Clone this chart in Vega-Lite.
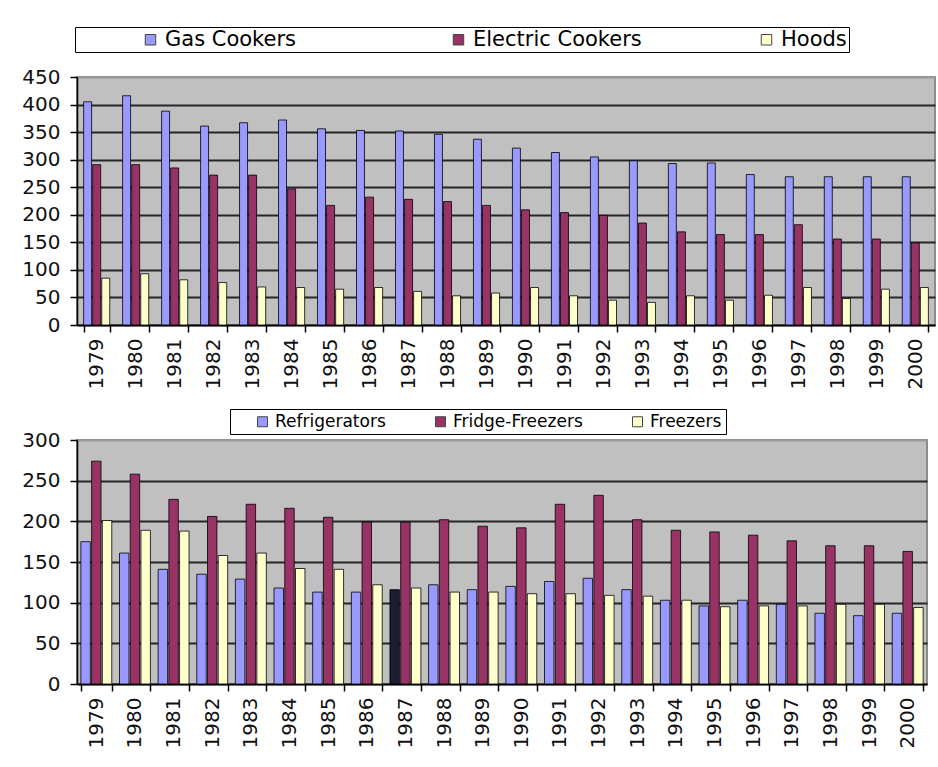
{
  "$schema": "https://vega.github.io/schema/vega-lite/v6.json",
  "padding": {"left": 20, "top": 25, "right": 0, "bottom": 0},
  "background": "white",
  "datasets": {
    "cookers": [
      {"year": "1979", "series": "Gas Cookers", "value": 405}, {"year": "1979", "series": "Electric Cookers", "value": 291}, {"year": "1979", "series": "Hoods", "value": 85},
      {"year": "1980", "series": "Gas Cookers", "value": 416}, {"year": "1980", "series": "Electric Cookers", "value": 291}, {"year": "1980", "series": "Hoods", "value": 93},
      {"year": "1981", "series": "Gas Cookers", "value": 388}, {"year": "1981", "series": "Electric Cookers", "value": 285}, {"year": "1981", "series": "Hoods", "value": 82},
      {"year": "1982", "series": "Gas Cookers", "value": 361}, {"year": "1982", "series": "Electric Cookers", "value": 272}, {"year": "1982", "series": "Hoods", "value": 77},
      {"year": "1983", "series": "Gas Cookers", "value": 367}, {"year": "1983", "series": "Electric Cookers", "value": 272}, {"year": "1983", "series": "Hoods", "value": 69},
      {"year": "1984", "series": "Gas Cookers", "value": 372}, {"year": "1984", "series": "Electric Cookers", "value": 247}, {"year": "1984", "series": "Hoods", "value": 68},
      {"year": "1985", "series": "Gas Cookers", "value": 356}, {"year": "1985", "series": "Electric Cookers", "value": 217}, {"year": "1985", "series": "Hoods", "value": 65},
      {"year": "1986", "series": "Gas Cookers", "value": 353}, {"year": "1986", "series": "Electric Cookers", "value": 232}, {"year": "1986", "series": "Hoods", "value": 68},
      {"year": "1987", "series": "Gas Cookers", "value": 352}, {"year": "1987", "series": "Electric Cookers", "value": 228}, {"year": "1987", "series": "Hoods", "value": 61},
      {"year": "1988", "series": "Gas Cookers", "value": 346}, {"year": "1988", "series": "Electric Cookers", "value": 224}, {"year": "1988", "series": "Hoods", "value": 53},
      {"year": "1989", "series": "Gas Cookers", "value": 337}, {"year": "1989", "series": "Electric Cookers", "value": 217}, {"year": "1989", "series": "Hoods", "value": 58},
      {"year": "1990", "series": "Gas Cookers", "value": 321}, {"year": "1990", "series": "Electric Cookers", "value": 209}, {"year": "1990", "series": "Hoods", "value": 68},
      {"year": "1991", "series": "Gas Cookers", "value": 313}, {"year": "1991", "series": "Electric Cookers", "value": 204}, {"year": "1991", "series": "Hoods", "value": 53},
      {"year": "1992", "series": "Gas Cookers", "value": 305}, {"year": "1992", "series": "Electric Cookers", "value": 199}, {"year": "1992", "series": "Hoods", "value": 45},
      {"year": "1993", "series": "Gas Cookers", "value": 298}, {"year": "1993", "series": "Electric Cookers", "value": 185}, {"year": "1993", "series": "Hoods", "value": 41},
      {"year": "1994", "series": "Gas Cookers", "value": 293}, {"year": "1994", "series": "Electric Cookers", "value": 169}, {"year": "1994", "series": "Hoods", "value": 53},
      {"year": "1995", "series": "Gas Cookers", "value": 294}, {"year": "1995", "series": "Electric Cookers", "value": 164}, {"year": "1995", "series": "Hoods", "value": 45},
      {"year": "1996", "series": "Gas Cookers", "value": 273}, {"year": "1996", "series": "Electric Cookers", "value": 164}, {"year": "1996", "series": "Hoods", "value": 54},
      {"year": "1997", "series": "Gas Cookers", "value": 269}, {"year": "1997", "series": "Electric Cookers", "value": 182}, {"year": "1997", "series": "Hoods", "value": 68},
      {"year": "1998", "series": "Gas Cookers", "value": 269}, {"year": "1998", "series": "Electric Cookers", "value": 156}, {"year": "1998", "series": "Hoods", "value": 48},
      {"year": "1999", "series": "Gas Cookers", "value": 269}, {"year": "1999", "series": "Electric Cookers", "value": 156}, {"year": "1999", "series": "Hoods", "value": 65},
      {"year": "2000", "series": "Gas Cookers", "value": 269}, {"year": "2000", "series": "Electric Cookers", "value": 149}, {"year": "2000", "series": "Hoods", "value": 68}
    ],
    "cold": [
      {"year": "1979", "series": "Refrigerators", "value": 175}, {"year": "1979", "series": "Fridge-Freezers", "value": 274}, {"year": "1979", "series": "Freezers", "value": 201},
      {"year": "1980", "series": "Refrigerators", "value": 161}, {"year": "1980", "series": "Fridge-Freezers", "value": 258}, {"year": "1980", "series": "Freezers", "value": 189},
      {"year": "1981", "series": "Refrigerators", "value": 141}, {"year": "1981", "series": "Fridge-Freezers", "value": 227}, {"year": "1981", "series": "Freezers", "value": 188},
      {"year": "1982", "series": "Refrigerators", "value": 135}, {"year": "1982", "series": "Fridge-Freezers", "value": 206}, {"year": "1982", "series": "Freezers", "value": 158},
      {"year": "1983", "series": "Refrigerators", "value": 129}, {"year": "1983", "series": "Fridge-Freezers", "value": 221}, {"year": "1983", "series": "Freezers", "value": 161},
      {"year": "1984", "series": "Refrigerators", "value": 118}, {"year": "1984", "series": "Fridge-Freezers", "value": 216}, {"year": "1984", "series": "Freezers", "value": 142},
      {"year": "1985", "series": "Refrigerators", "value": 113}, {"year": "1985", "series": "Fridge-Freezers", "value": 205}, {"year": "1985", "series": "Freezers", "value": 141},
      {"year": "1986", "series": "Refrigerators", "value": 113}, {"year": "1986", "series": "Fridge-Freezers", "value": 199}, {"year": "1986", "series": "Freezers", "value": 122},
      {"year": "1987", "series": "Refrigerators", "value": 116}, {"year": "1987", "series": "Fridge-Freezers", "value": 199}, {"year": "1987", "series": "Freezers", "value": 118},
      {"year": "1988", "series": "Refrigerators", "value": 122}, {"year": "1988", "series": "Fridge-Freezers", "value": 202}, {"year": "1988", "series": "Freezers", "value": 113},
      {"year": "1989", "series": "Refrigerators", "value": 116}, {"year": "1989", "series": "Fridge-Freezers", "value": 194}, {"year": "1989", "series": "Freezers", "value": 113},
      {"year": "1990", "series": "Refrigerators", "value": 120}, {"year": "1990", "series": "Fridge-Freezers", "value": 192}, {"year": "1990", "series": "Freezers", "value": 111},
      {"year": "1991", "series": "Refrigerators", "value": 126}, {"year": "1991", "series": "Fridge-Freezers", "value": 221}, {"year": "1991", "series": "Freezers", "value": 111},
      {"year": "1992", "series": "Refrigerators", "value": 130}, {"year": "1992", "series": "Fridge-Freezers", "value": 232}, {"year": "1992", "series": "Freezers", "value": 109},
      {"year": "1993", "series": "Refrigerators", "value": 116}, {"year": "1993", "series": "Fridge-Freezers", "value": 202}, {"year": "1993", "series": "Freezers", "value": 108},
      {"year": "1994", "series": "Refrigerators", "value": 103}, {"year": "1994", "series": "Fridge-Freezers", "value": 189}, {"year": "1994", "series": "Freezers", "value": 103},
      {"year": "1995", "series": "Refrigerators", "value": 96}, {"year": "1995", "series": "Fridge-Freezers", "value": 187}, {"year": "1995", "series": "Freezers", "value": 95},
      {"year": "1996", "series": "Refrigerators", "value": 103}, {"year": "1996", "series": "Fridge-Freezers", "value": 183}, {"year": "1996", "series": "Freezers", "value": 96},
      {"year": "1997", "series": "Refrigerators", "value": 98}, {"year": "1997", "series": "Fridge-Freezers", "value": 176}, {"year": "1997", "series": "Freezers", "value": 96},
      {"year": "1998", "series": "Refrigerators", "value": 87}, {"year": "1998", "series": "Fridge-Freezers", "value": 170}, {"year": "1998", "series": "Freezers", "value": 98},
      {"year": "1999", "series": "Refrigerators", "value": 84}, {"year": "1999", "series": "Fridge-Freezers", "value": 170}, {"year": "1999", "series": "Freezers", "value": 98},
      {"year": "2000", "series": "Refrigerators", "value": 87}, {"year": "2000", "series": "Fridge-Freezers", "value": 163}, {"year": "2000", "series": "Freezers", "value": 94}
    ]
  },
  "vconcat": [
    {
      "data": {"name": "cookers"},
      "width": 858,
      "height": 248,
      "mark": {"type": "bar", "stroke": "#000", "strokeWidth": 0.8},
      "encoding": {
        "x": {"field": "year", "type": "nominal", "scale": {"paddingInner": 0.33, "paddingOuter": 0.17}, "axis": {"title": null}},
        "xOffset": {"field": "series", "type": "nominal", "scale": {"domain": ["Gas Cookers", "Electric Cookers", "Hoods"], "paddingInner": 0.12}},
        "y": {"field": "value", "type": "quantitative", "scale": {"domain": [0, 450]}, "axis": {"title": null, "values": [0, 50, 100, 150, 200, 250, 300, 350, 400, 450], "labelPadding": 10, "gridColor": {"condition": {"test": "datum.value == 450", "value": "#9a9a9a"}, "value": "#262626"}}},
        "color": {
          "field": "series", "type": "nominal",
          "scale": {"domain": ["Gas Cookers", "Electric Cookers", "Hoods"], "range": ["#9999FF", "#993366", "#FFFFCC"]},
          "legend": {"orient": "none", "legendX": -2, "legendY": -50, "direction": "horizontal", "title": " ", "titleOrient": "left", "titlePadding": 63, "titleFontSize": 21, "gridAlign": "all", "columnPadding": 114, "padding": 2, "strokeColor": "#000", "fillColor": "#ffffff", "labelFontSize": 21, "labelLimit": 400, "symbolType": "square", "symbolSize": 110, "symbolStrokeColor": "#444", "symbolStrokeWidth": 1}
        }
      }
    },
    {
      "data": {"name": "cold"},
      "width": 850,
      "height": 244,
      "mark": {"type": "bar", "stroke": "#000", "strokeWidth": 0.8},
      "encoding": {
        "x": {"field": "year", "type": "nominal", "scale": {"paddingInner": 0.2, "paddingOuter": 0.1}, "axis": {"title": null}},
        "xOffset": {"field": "series", "type": "nominal", "scale": {"domain": ["Refrigerators", "Fridge-Freezers", "Freezers"], "paddingInner": 0.12}},
        "y": {"field": "value", "type": "quantitative", "scale": {"domain": [0, 300]}, "axis": {"title": null, "values": [0, 50, 100, 150, 200, 250, 300], "labelPadding": 10, "gridColor": {"condition": {"test": "datum.value == 300", "value": "#9a9a9a"}, "value": "#262626"}}},
        "color": {
          "condition": {"test": "datum.year == '1987' && datum.series == 'Refrigerators'", "value": "#1c1c34"},
          "field": "series", "type": "nominal",
          "scale": {"domain": ["Refrigerators", "Fridge-Freezers", "Freezers"], "range": ["#9999FF", "#993366", "#FFFFCC"]},
          "legend": {"orient": "none", "legendX": 153, "legendY": -31, "direction": "horizontal", "title": " ", "titleOrient": "left", "titlePadding": 20, "titleFontSize": 17, "gridAlign": "each", "columnPadding": 46, "padding": 4, "strokeColor": "#000", "fillColor": "#ffffff", "labelFontSize": 17, "symbolType": "square", "symbolSize": 100, "symbolStrokeColor": "#444", "symbolStrokeWidth": 1}
        }
      }
    }
  ],
  "spacing": 17,
  "resolve": {"scale": {"color": "independent", "x": "independent", "y": "independent", "xOffset": "independent"}},
  "config": {
    "font": "DejaVu Sans",
    "view": {"fill": "#C0C0C0", "stroke": "#8c8c8c", "strokeWidth": 2},
    "axis": {"labelFont": "DejaVu Sans", "labelFontSize": 20, "labelColor": "#111", "domainColor": "#000", "domainWidth": 1.5, "tickColor": "#000", "tickWidth": 1.5, "tickSize": 7, "gridWidth": 2},
    "axisX": {"tickBand": "extent", "labelAngle": 270, "labelPadding": 6, "grid": false},
    "axisY": {"grid": true},
    "legend": {"labelFont": "DejaVu Sans", "labelColor": "#000", "titleFont": "DejaVu Sans"}
  }
}
